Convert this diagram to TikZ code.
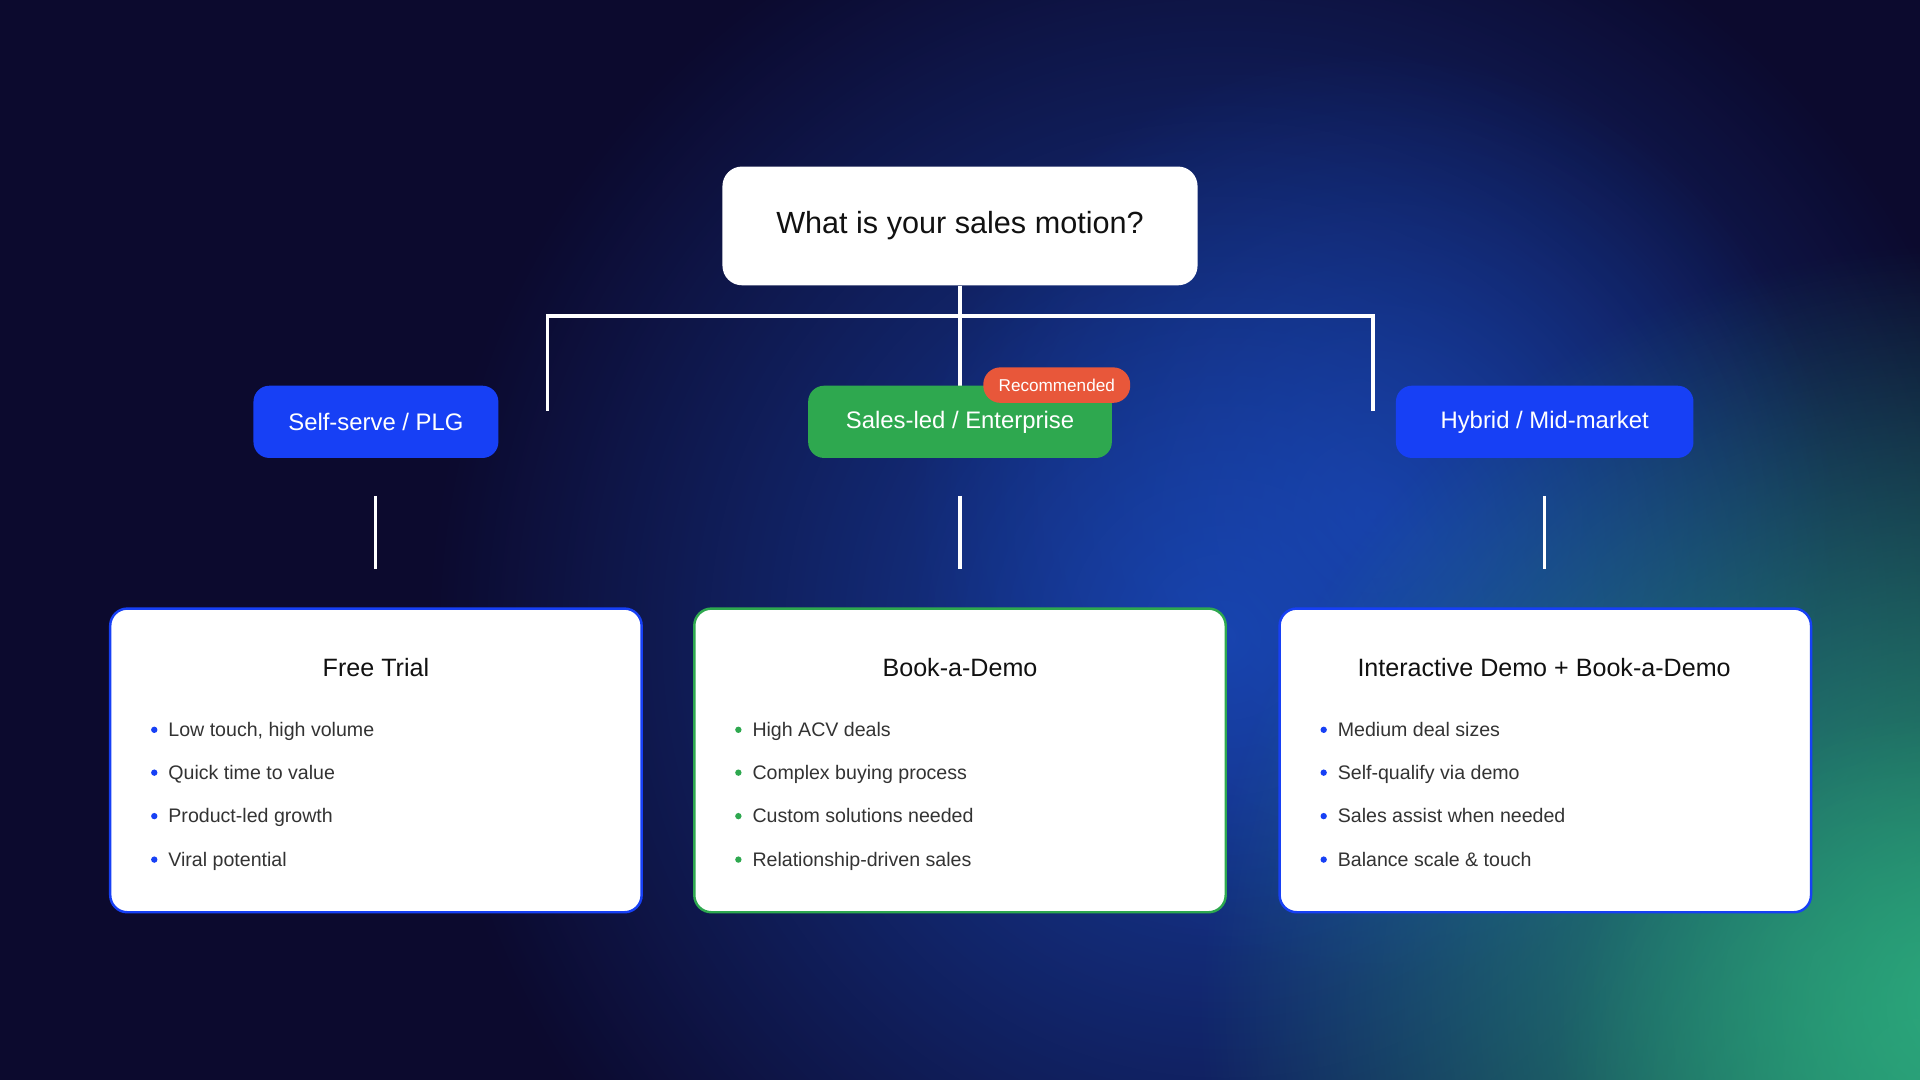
\documentclass[tikz,border=0pt]{standalone}
\usepackage{fontspec}
\setmainfont{Liberation Sans}
\usetikzlibrary{fadings}
\tikzfading[name=glow, inner color=transparent!0, outer color=transparent!100]
\definecolor{bgbase}{HTML}{0C0A2E}
\definecolor{glowblue}{HTML}{1A4DC2}
\definecolor{glowgreen}{HTML}{2BA87C}
\definecolor{pblue}{HTML}{1740F5}
\definecolor{pgreen}{HTML}{2EA84F}
\definecolor{badge}{HTML}{E8573A}
\definecolor{txt}{HTML}{111111}
\definecolor{btxt}{HTML}{333333}
\begin{document}
\begin{tikzpicture}[x=1pt,y=-1pt,
  pill/.style={rounded corners=13pt,text=white,font=\fontsize{19.5}{22}\selectfont},
  card/.style={fill=white,rounded corners=14pt,line width=2pt},
  conn/.style={white,line width=3pt},
  stub/.style={white,line width=2.5pt},
  bul/.style={anchor=base west,text=btxt,font=\fontsize{16}{18}\selectfont},
  ttl/.style={text=txt,font=\fontsize{20.5}{23}\selectfont}]
\useasboundingbox (0,0) rectangle (1568,882);
\fill[bgbase] (0,0) rectangle (1568,882);
\begin{scope}
\clip (0,0) rectangle (1568,882);
\fill[glowblue,path fading=glow,opacity=0.8] (1000,520) circle (650);
\fill[glowblue,path fading=glow,opacity=0.6] (1120,420) circle (380);
\fill[glowgreen,path fading=glow] (1600,820) circle (620);
\fill[glowgreen,path fading=glow,opacity=0.6] (1568,882) circle (300);
\end{scope}
% top
\node[fill=white,rounded corners=16pt,minimum width=388pt,minimum height=97pt,text=txt,font=\fontsize{25}{28}\selectfont] (top) at (784,184.5) {What is your sales motion?};
\coordinate (j) at (784,258);
\coordinate (jl) at (447,258);
\coordinate (jr) at (1121,258);
\coordinate (el) at (447,334);
\coordinate (er) at (1121,334);
\coordinate (em) at (784,316);
\draw[conn] (top.south) -- (j);
\draw[conn,line cap=rect] (el) -- (jl) -- (jr) -- (er);
\draw[conn] (j) -- (em);
% pills
\node[pill,fill=pblue,minimum width=200pt,minimum height=59pt] (p1) at (307,344.5) {Self-serve / PLG};
\node[pill,fill=pgreen,minimum width=248pt,minimum height=59pt] (p2) at (784,344.5) {Sales-led / Enterprise};
\node[pill,fill=pblue,minimum width=243pt,minimum height=59pt] (p3) at (1261.5,344.5) {Hybrid / Mid-market};
\node[fill=badge,rounded corners=14pt,minimum width=120pt,minimum height=29pt,text=white,font=\fontsize{14}{16}\selectfont] (rec) at (863,314.5) {Recommended};
% stubs
\foreach \x/\n in {307/a,784/b,1261/c}{
  \coordinate (s\n) at (\x,405); \coordinate (t\n) at (\x,465);
  \draw[stub] (s\n) -- (t\n);}
% cards
\foreach \x/\c/\n in {90/pblue/1,567/pgreen/2,1045/pblue/3}{
  \draw[card,draw=\c] (\x,497) rectangle ++(434,248);}
\node[ttl] (c1) at (307,545) {Free Trial};
\node[ttl] (c2) at (784,545) {Book-a-Demo};
\node[ttl] (c3) at (1261,545) {Interactive Demo + Book-a-Demo};
\foreach \x/\c/\a/\b/\cc/\d in {
 90/pblue/{Low touch, high volume}/{Quick time to value}/{Product-led growth}/{Viral potential},
 567/pgreen/{High ACV deals}/{Complex buying process}/{Custom solutions needed}/{Relationship-driven sales},
 1045/pblue/{Medium deal sizes}/{Self-qualify via demo}/{Sales assist when needed}/{Balance scale \& touch}}{
  \foreach \y/\t in {596/\a,631/\b,666.5/\cc,702/\d}{
    \fill[\c] (\x+36,\y) circle (2.6);
    \node[bul] at (\x+44,\y+5.5) {\t};}}
\end{tikzpicture}
\end{document}
